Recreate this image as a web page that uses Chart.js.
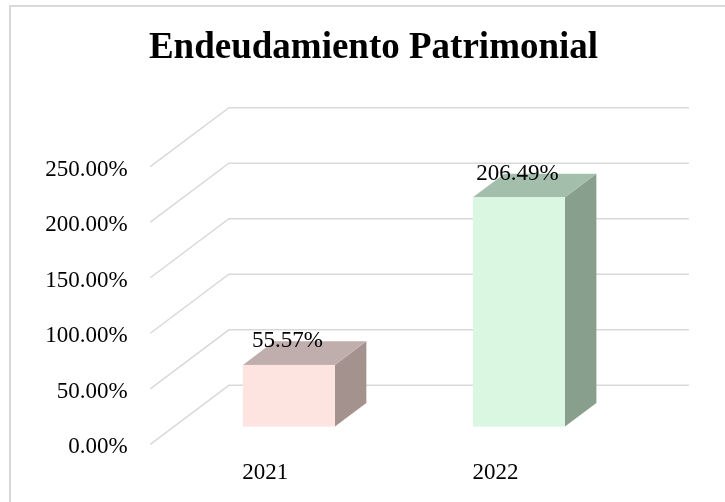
<!DOCTYPE html>
<html>
<head>
<meta charset="utf-8">
<script src="https://cdn.jsdelivr.net/npm/chart.js@4/dist/chart.umd.min.js"></script>
<style>
html,body{margin:0;padding:0;background:#fff;overflow:hidden}
#wrap{position:relative;width:725px;height:502px}
</style>
</head>
<body>
<div id="wrap"><canvas id="c"></canvas></div>
<script>
// ---- data ----
const categories = ['2021', '2022'];
const values = [55.57, 206.49];
const yMin = 0, yMax = 250, yStep = 50;
const chartTitle = 'Endeudamiento Patrimonial';

// ---- styles ----
const frontColors = ['#fde4e1', '#daf7e2'];
const topColors = ['#c0aead', '#a3bfac'];
const sideColors = ['#a4928f', '#889f8d'];
const SERIF = "'Liberation Serif','Times New Roman',serif";
const GRID = '#d9d9d9';
const DEPTH_X = 78.6, DEPTH_Y = -59;      // 3D depth projection of the plot floor
const BAR_FRONT = 0.3, BAR_BACK = 0.7;    // bar depth within floor

const fmt = v => v.toFixed(2) + '%';

function poly(ctx, pts) {
  ctx.beginPath();
  ctx.moveTo(pts[0][0], pts[0][1]);
  for (let k = 1; k < pts.length; k++) ctx.lineTo(pts[k][0], pts[k][1]);
  ctx.closePath();
  ctx.fill();
}

const box3d = {
  id: 'box3d',
  beforeDraw(chart) {
    const ctx = chart.ctx;
    ctx.save();
    ctx.strokeStyle = GRID;
    ctx.lineWidth = 2;
    ctx.beginPath();
    ctx.moveTo(10, chart.height);
    ctx.lineTo(10, 6);
    ctx.lineTo(chart.width, 6);
    ctx.stroke();
    ctx.restore();
  },
  beforeDatasetsDraw(chart) {
    const {ctx, chartArea: a, scales: {x, y}} = chart;
    ctx.save();
    ctx.strokeStyle = GRID;
    ctx.lineWidth = 1.5;
    y.ticks.forEach(t => {
      const py = y.getPixelForValue(t.value);
      ctx.beginPath();
      ctx.moveTo(a.left, py);
      ctx.lineTo(a.left + DEPTH_X, py + DEPTH_Y);
      ctx.lineTo(a.right + DEPTH_X, py + DEPTH_Y);
      ctx.stroke();
    });
    const meta = chart.getDatasetMeta(0);
    meta.data.forEach((bar, i) => {
      const p = bar.getProps(['x', 'y', 'base', 'width'], true);
      const L = p.x - p.width / 2 + BAR_FRONT * DEPTH_X;
      const R = L + p.width;
      const T = p.y + BAR_FRONT * DEPTH_Y;
      const B = p.base + BAR_FRONT * DEPTH_Y;
      const dx = (BAR_BACK - BAR_FRONT) * DEPTH_X;
      const dy = (BAR_BACK - BAR_FRONT) * DEPTH_Y;
      ctx.fillStyle = sideColors[i];
      poly(ctx, [[R, T], [R + dx, T + dy], [R + dx, B + dy], [R, B]]);
      ctx.fillStyle = topColors[i];
      poly(ctx, [[L, T], [L + dx, T + dy], [R + dx, T + dy], [R, T]]);
      ctx.fillStyle = frontColors[i];
      ctx.fillRect(L, T, p.width, B - T);
    });
    ctx.restore();
    return false;
  },
  afterDraw(chart) {
    const ctx = chart.ctx;
    const meta = chart.getDatasetMeta(0);
    ctx.save();
    ctx.fillStyle = '#000';
    ctx.font = '23px ' + SERIF;
    ctx.textAlign = 'center';
    ctx.textBaseline = 'middle';
    meta.data.forEach((bar, i) => {
      const p = bar.getProps(['x', 'y'], true);
      const cx = p.x + BAR_FRONT * DEPTH_X - 1.5;
      const cy = p.y + BAR_BACK * DEPTH_Y;
      ctx.fillText(fmt(values[i]), cx, cy);
    });
    ctx.restore();
  }
};

new Chart(document.getElementById('c'), {
  type: 'bar',
  data: {
    labels: categories,
    datasets: [{
      data: values,
      backgroundColor: frontColors,
      barPercentage: 0.4,
      categoryPercentage: 1.0
    }]
  },
  options: {
    responsive: true,
    maintainAspectRatio: false,
    animation: false,
    events: [],
    layout: {padding: {left: 22, right: 0, top: 0, bottom: 0}},
    plugins: {
      legend: {display: false},
      tooltip: {enabled: false},
      title: {
        display: true,
        text: chartTitle,
        color: '#000',
        font: {family: SERIF, size: 37, weight: 'bold', lineHeight: 1.2},
        padding: {top: 26, bottom: 96.3}
      }
    },
    scales: {
      x: {
        grid: {display: false, drawTicks: false},
        border: {display: false},
        ticks: {color: '#000', font: {family: SERIF, size: 23}, padding: 15},
        afterFit(s) { s.height = 57.7; }
      },
      y: {
        min: yMin, max: yMax,
        grid: {display: false, drawTicks: false},
        border: {display: false},
        ticks: {stepSize: yStep, color: '#000', font: {family: SERIF, size: 23}, padding: 22.6,
                labelOffset: 3, callback: v => fmt(v)},
        afterFit(s) { s.width = 128.3; }
      },
      yRight: {
        type: 'linear',
        position: 'right',
        grid: {display: false, drawTicks: false},
        border: {display: false},
        ticks: {display: false},
        afterFit(s) { s.width = 114.6; }
      }
    }
  },
  plugins: [box3d]
});
</script>
</body>
</html>
